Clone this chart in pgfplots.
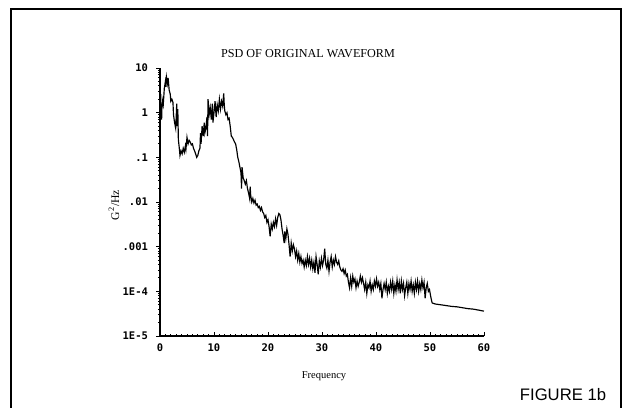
\documentclass[border=0pt]{standalone}
\usepackage{pgfplots}
\pgfplotsset{compat=1.18}
\usepackage{fontspec}
\setmainfont{Liberation Serif}
\newfontfamily\monofont{DejaVu Sans Mono}
\newfontfamily\arialfont{Liberation Sans}
\begin{document}
\begin{tikzpicture}[x=0.6pt,y=0.6pt]
\path[use as bounding box] (0,0) rectangle (626,407);
\draw[line width=1.1pt] (11,-2)--(11,398)--(621,398)--(621,-2);
\begin{axis}[
  at={(96pt,42.6pt)}, anchor=south west,
  scale only axis, width=194.4pt, height=160.8pt,
  ymode=log, xmin=0, xmax=60, ymin=1e-5, ymax=10,
  axis lines*=left,
  axis line style={line width=0.8pt},
  xtick={0,10,20,30,40,50,60},
  xticklabels={0,10,20,30,40,50,60},
  minor x tick num=9,
  ytick={1e-5,1e-4,1e-3,1e-2,1e-1,1,10},
  yticklabels={1E-5,1E-4,.001,.01,.1,1,10},
  tick style={black, line width=0.55pt},
  major tick length=2.2pt, minor tick length=1.3pt,
  xtick align=inside, ytick align=outside,
  ticklabel style={font=\monofont\bfseries\fontsize{6.3}{7}\selectfont},
  yticklabel style={xshift=-1.5pt},
  xticklabel style={yshift=-1pt},
  clip=false,
]
\addplot[black, line width=0.7pt] coordinates {
(0.0,0.8) (0.2,1.6) (0.3,0.7) (0.4,2.0) (0.6,1.5) (0.8,3.5) (1.0,5.0) (1.1,3.8) (1.2,6.3) (1.4,4.5) (1.5,6.0) (1.7,3.2) (1.9,2.6) (2.0,1.8) (2.2,2.0) (2.4,1.7) (2.5,0.9) (2.7,0.6) (2.9,0.45) (3.0,0.8) (3.1,1.6) (3.2,0.5) (3.3,1.2) (3.4,0.25) (3.6,0.15) (3.7,0.11) (3.9,0.14)
(4.1,0.12) (4.3,0.16) (4.5,0.13) (4.7,0.18) (4.8,0.15) (5.0,0.28) (5.2,0.2) (5.4,0.24) (5.6,0.22) (5.8,0.19) (6.0,0.2) (6.2,0.16) (6.4,0.14) (6.6,0.12) (6.8,0.10) (7.0,0.11) (7.2,0.14) (7.4,0.16) (7.5,0.35) (7.6,0.2) (7.8,0.5) (8.0,0.3) (8.2,0.6) (8.3,0.35) (8.5,0.45) (8.7,0.8) (8.8,0.3) (8.9,2.0)
(9.1,0.9) (9.3,1.3) (9.5,0.7) (9.7,1.6) (9.8,0.6) (10.0,1.0) (10.2,1.8) (10.4,0.8) (10.6,1.5) (10.8,1.1) (11.0,2.0) (11.2,1.2) (11.4,1.8) (11.6,1.4) (11.8,2.7) (11.9,1.5) (12.0,1.1) (12.2,0.9) (12.4,1.0) (12.6,0.7) (12.8,0.75) (13.0,0.5) (13.2,0.3) (13.4,0.28) (13.6,0.25) (13.8,0.22) (14.0,0.2)
(14.2,0.15) (14.4,0.1) (14.6,0.08) (14.8,0.06) (15.0,0.045) (15.1,0.02) (15.2,0.06) (15.4,0.035) (15.6,0.03) (15.8,0.025) (16.0,0.03) (16.2,0.02) (16.4,0.016) (16.6,0.012) (16.7,0.022) (16.8,0.014) (17.0,0.01) (17.2,0.012) (17.4,0.0095) (17.6,0.011) (17.8,0.0085) (18.0,0.009) (18.2,0.0075) (18.4,0.008) (18.6,0.0065) (18.8,0.0075)
(19.0,0.006) (19.2,0.0055) (19.4,0.0045) (19.6,0.005) (19.8,0.0035) (20.0,0.004) (20.2,0.0028) (20.4,0.0017) (20.6,0.0032) (20.8,0.0025) (21.0,0.0035) (21.2,0.0028) (21.4,0.0042) (21.6,0.003) (21.8,0.0045) (22.0,0.0055) (22.2,0.0052) (22.4,0.004) (22.6,0.0025) (22.8,0.0018) (23.0,0.0012) (23.1,0.0022) (23.3,0.0015) (23.5,0.0025) (23.7,0.0019) (23.9,0.0011)
(24.1,0.0006) (24.3,0.0012) (24.5,0.0008) (24.7,0.0011) (24.9,0.0009) (25.1,0.0006) (25.3,0.0008) (25.5,0.0005) (25.7,0.0007) (25.9,0.00045) (26.1,0.0006) (26.3,0.00042) (26.5,0.0005) (26.7,0.00035) (26.9,0.0005) (27.1,0.00038) (27.3,0.0006) (27.5,0.0004) (27.7,0.00055) (27.9,0.00035) (28.1,0.0005) (28.3,0.00032) (28.5,0.00045) (28.7,0.00026) (28.9,0.0006)
(29.1,0.0004) (29.3,0.00024) (29.5,0.00048) (29.7,0.00035) (29.9,0.00055) (30.1,0.00038) (30.3,0.0005) (30.5,0.0009) (30.7,0.0004) (30.9,0.00033) (31.1,0.0005) (31.3,0.00028) (31.5,0.00045) (31.7,0.0006) (31.9,0.00035) (32.1,0.0005) (32.3,0.0004) (32.5,0.0006) (32.7,0.00045) (32.9,0.0004) (33.1,0.00048) (33.3,0.00035) (33.5,0.0003) (33.7,0.00028) (33.9,0.00032)
(34.1,0.00025) (34.3,0.0003) (34.5,0.00022) (34.7,0.00024) (34.9,0.00016) (35.1,0.00012) (35.3,0.0002) (35.5,0.00013) (35.7,0.00022) (35.9,0.00016) (36.1,0.00019) (36.3,0.00012) (36.5,0.00017) (36.7,0.00013) (36.9,0.00016) (37.1,0.00022) (37.3,0.00016) (37.5,0.0002) (37.7,0.00015) (37.9,0.00011) (38.1,0.00016) (38.3,0.00009) (38.5,0.00014) (38.7,0.00012) (38.9,0.00017)
(39.1,0.0001) (39.3,0.00014) (39.5,0.00011) (39.7,0.00017) (39.9,0.00013) (40.1,0.00019) (40.3,0.00013) (40.5,0.00016) (40.7,0.00011) (40.9,0.00015) (41.1,0.00007) (41.3,0.00011) (41.5,0.00015) (41.7,0.00011) (41.9,0.00016) (42.1,0.00009) (42.3,0.00013) (42.5,0.0001) (42.7,0.00016) (42.9,0.00011) (43.1,0.00017) (43.3,0.00009) (43.5,0.00014) (43.7,0.0001) (43.9,0.00018)
(44.1,0.00011) (44.3,0.00016) (44.5,0.00009) (44.7,0.00017) (44.9,0.00011) (45.1,0.00015) (45.3,0.00008) (45.5,0.00012) (45.7,0.00016) (45.9,0.00009) (46.1,0.00015) (46.3,0.00011) (46.5,0.00017) (46.7,0.0001) (46.9,0.00014) (47.1,0.00009) (47.3,0.00016) (47.5,0.00011) (47.7,0.00017) (47.9,0.0001) (48.1,0.00015) (48.3,0.00011) (48.5,0.00018) (48.7,0.00012) (48.9,0.00016)
(49.1,0.00007) (49.3,0.00012) (49.5,0.00015) (49.7,0.0001) (49.9,0.00011) (50.2,0.00007) (50.4,0.000055) (51.0,0.000052) (52.0,0.00005) (53.0,0.000048) (54.0,0.000046) (55.0,0.000045) (56.0,0.000043) (57.0,0.000041) (58.0,0.00004) (59.0,0.000038) (60.0,0.000036)
};
\end{axis}
\node[font=\fontsize{7.3}{9}\selectfont] at (308,353) {PSD OF ORIGINAL WAVEFORM};
\node[font=\fontsize{6.3}{7}\selectfont] at (324,31) {Frequency};
\node[rotate=90, font=\fontsize{7}{8}\selectfont] at (114,202) {G\textsuperscript{2}/Hz};
\node[font=\arialfont\fontsize{10}{12}\selectfont] at (563,12) {FIGURE 1b};
\end{tikzpicture}
\end{document}
